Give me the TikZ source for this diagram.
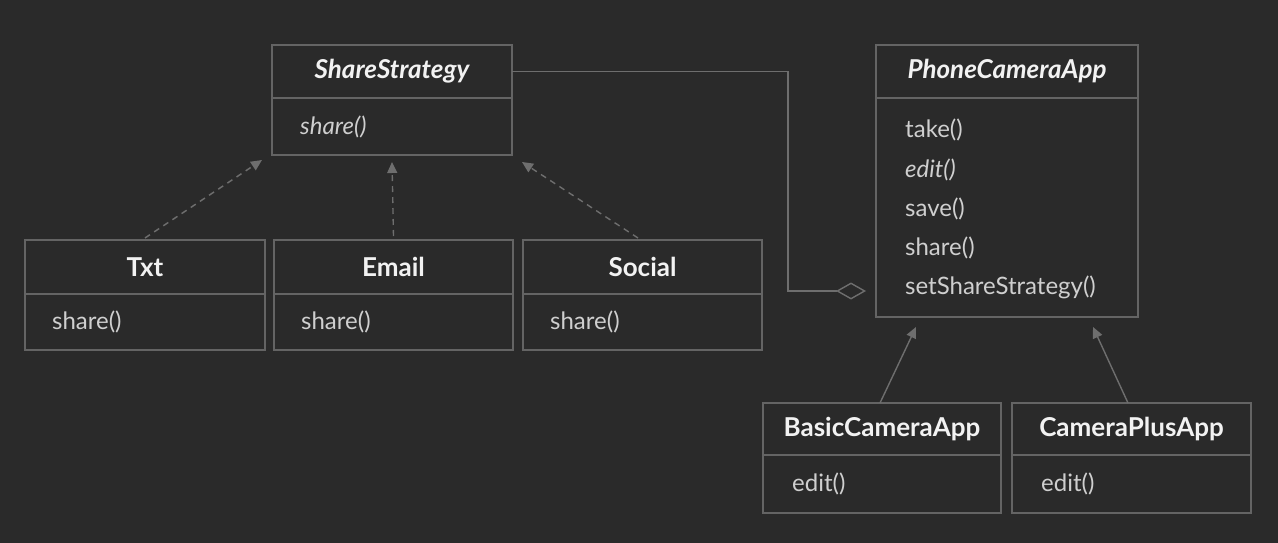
\documentclass[tikz,border=0pt]{standalone}
\usepackage{fontspec}
\setmainfont{Lato}
\usetikzlibrary{arrows.meta,calc}
\definecolor{bg}{HTML}{2A2A2A}
\definecolor{boxline}{HTML}{646464}
\definecolor{conn}{HTML}{6E6E6E}
\definecolor{titlec}{HTML}{F2F2F2}
\definecolor{bodyc}{HTML}{CFCFCF}
\tikzset{
  part/.style={draw=boxline, line width=1.4pt, rectangle, inner sep=0pt, outer sep=0pt},
  ttl/.style={text=titlec, font=\fontsize{26}{30}\selectfont\bfseries},
  itl/.style={text=titlec, font=\fontsize{26}{30}\selectfont\bfseries\itshape},
  op/.style={text=bodyc, font=\fontsize{24}{28}\selectfont, anchor=west, inner sep=0pt},
  conline/.style={draw=conn, line width=1.4pt},
  realize/.style={conline, dashed, dash pattern=on 6pt off 5pt, -{Triangle[length=11pt,width=10pt]}},
  inherit/.style={conline, -{Triangle[length=11pt,width=10pt]}},
  aggr/.style={conline, -{Diamond[open,length=30pt,width=17pt,line width=1.4pt]}}
}
\begin{document}
\begin{tikzpicture}[x=1pt,y=1pt]
\fill[bg] (0,0) rectangle (1278,-543);
\useasboundingbox (0,0) rectangle (1278,-543);

% ShareStrategy
\node[part, minimum width=240, minimum height=53] (ss-t) at (392,-71.5) {};
\node[part, minimum width=240, minimum height=57, anchor=north] (ss-b) at (ss-t.south) {};
\node[itl] (ss-n) at (ss-t.center) {ShareStrategy};
\node[op] (ss-o1) at ([xshift=28]ss-b.west) {\itshape share()};

% PhoneCameraApp
\node[part, minimum width=262, minimum height=53] (pca-t) at (1007,-71.5) {};
\node[part, minimum width=262, minimum height=219, anchor=north] (pca-b) at (pca-t.south) {};
\node[itl] (pca-n) at (pca-t.center) {PhoneCameraApp};
\node[op] (pca-o1) at (905,-130) {take()};
\node[op] (pca-o2) at (905,-170) {\itshape edit()};
\node[op] (pca-o3) at (905,-209) {save()};
\node[op] (pca-o4) at (905,-248) {share()};
\node[op] (pca-o5) at (905,-287) {setShareStrategy()};

% Txt
\node[part, minimum width=240, minimum height=54] (txt-t) at (145,-267) {};
\node[part, minimum width=240, minimum height=56, anchor=north] (txt-b) at (txt-t.south) {};
\node[ttl] (txt-n) at (txt-t.center) {Txt};
\node[op] (txt-o1) at ([xshift=27]txt-b.west) {share()};

% Email
\node[part, minimum width=239, minimum height=54] (em-t) at (393.5,-267) {};
\node[part, minimum width=239, minimum height=56, anchor=north] (em-b) at (em-t.south) {};
\node[ttl] (em-n) at (em-t.center) {Email};
\node[op] (em-o1) at ([xshift=27]em-b.west) {share()};

% Social
\node[part, minimum width=239, minimum height=54] (so-t) at (642.5,-267) {};
\node[part, minimum width=239, minimum height=56, anchor=north] (so-b) at (so-t.south) {};
\node[ttl] (so-n) at (so-t.center) {Social};
\node[op] (so-o1) at ([xshift=27]so-b.west) {share()};

% BasicCameraApp
\node[part, minimum width=238, minimum height=52] (bca-t) at (882,-429) {};
\node[part, minimum width=238, minimum height=58, anchor=north] (bca-b) at (bca-t.south) {};
\node[ttl] (bca-n) at (bca-t.center) {BasicCameraApp};
\node[op] (bca-o1) at ([xshift=29]bca-b.west) {edit()};

% CameraPlusApp
\node[part, minimum width=239, minimum height=52] (cpa-t) at (1131.5,-429) {};
\node[part, minimum width=239, minimum height=58, anchor=north] (cpa-b) at (cpa-t.south) {};
\node[ttl] (cpa-n) at (cpa-t.center) {CameraPlusApp};
\node[op] (cpa-o1) at ([xshift=29]cpa-b.west) {edit()};

% connectors
\coordinate (bend) at (788,-291);
\coordinate (agg) at ([xshift=-10]pca-b.west |- bend);
\draw[aggr] (ss-t.east) -| (bend) -- (agg);

\draw[realize] ([yshift=2]txt-t.north) -- ([shift={(-10,-5)}]ss-b.south west);
\draw[realize] ([yshift=4]em-t.north) -- ([yshift=-7]ss-b.south);
\draw[realize] ([shift={(-4.5,2)}]so-t.north) -- ([shift={(10,-7)}]ss-b.south east);

\draw[inherit] ([xshift=-2]bca-t.north) -- ([shift={(40,-10)}]pca-b.south west);
\draw[inherit] ([xshift=-3.5]cpa-t.north) -- ([shift={(-45,-10)}]pca-b.south east);
\end{tikzpicture}
\end{document}
